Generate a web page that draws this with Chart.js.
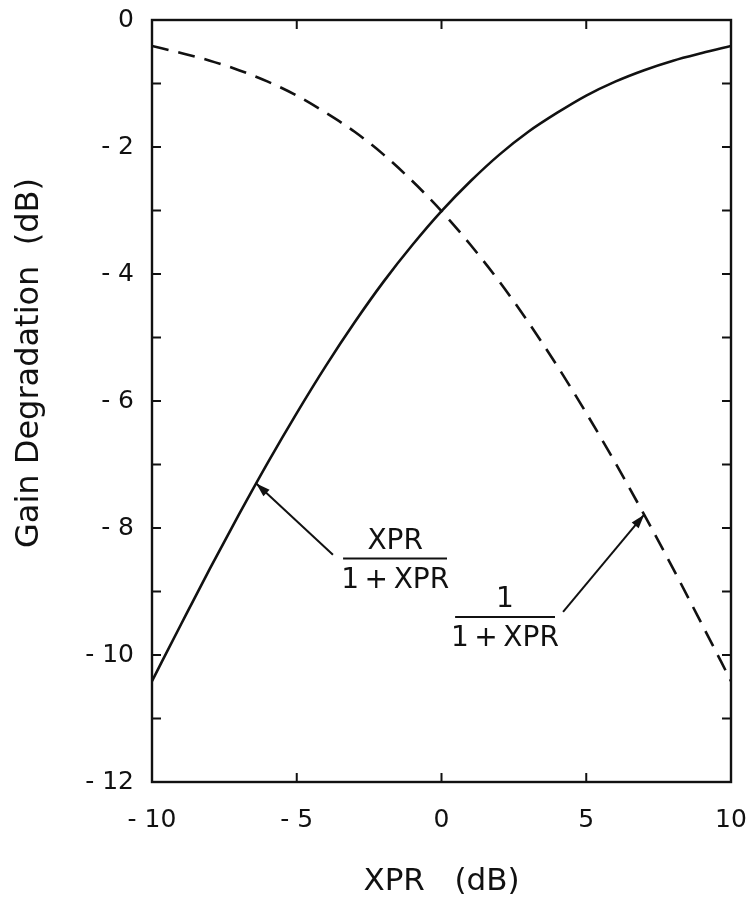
<!DOCTYPE html>
<html>
<head>
<meta charset="utf-8">
<script src="https://cdn.jsdelivr.net/npm/chart.js@4/dist/chart.umd.min.js"></script>
<style>
html, body { margin: 0; padding: 0; background: #fff; }
#wrap { width: 752px; height: 905px; position: relative; }
</style>
</head>
<body>
<div id="wrap"><canvas id="c"></canvas></div>
<script>
// XPR (dB) along x
const xpr = [-10, -9, -8, -7, -6, -5, -4, -3, -2, -1, 0, 1, 2, 3, 4, 5, 6, 7, 8, 9, 10];
// gain degradation (dB), solid curve XPR/(1+XPR)
const solidVals = [-10.41, -9.52, -8.64, -7.79, -6.97, -6.19, -5.45, -4.76, -4.12, -3.54, -3.01,
  -2.54, -2.12, -1.76, -1.46, -1.19, -0.97, -0.79, -0.64, -0.52, -0.41];
// dashed curve 1/(1+XPR)
const dashedVals = [-0.41, -0.52, -0.64, -0.79, -0.97, -1.19, -1.46, -1.76, -2.12, -2.54, -3.01,
  -3.54, -4.12, -4.76, -5.45, -6.19, -6.97, -7.79, -8.64, -9.52, -10.41];
const xTickStep = 5;
const yTickStep = 1;

// fraction labels with arrows (data coords)
const notes = [
  { top: 'XPR', bottom: '1\u2009+\u2009XPR', cx: -1.6, cy: -8.48, x0: -3.4, x1: 0.19, tail: [-3.75, -8.42], tip: [-6.4, -7.3] },
  { top: '1', bottom: '1\u2009+\u2009XPR', cx: 2.19, cy: -9.4, x0: 0.47, x1: 3.92, tail: [4.2, -9.32], tip: [7.0, -7.79] }
];

const INK = '#111';
const FONT = '"DejaVu Sans", sans-serif';

const minusLabel = v => v < 0 ? '- ' + (-v) : String(v);

const frame = {
  id: 'frame',
  afterDatasetsDraw(chart) {
    const { ctx, chartArea: a, scales: { x, y } } = chart;
    ctx.save();
    ctx.strokeStyle = INK;
    ctx.lineWidth = 2.4;
    ctx.strokeRect(a.left, a.top, a.right - a.left, a.bottom - a.top);
    // inward ticks on all four sides
    const tl = 9;
    ctx.lineWidth = 2;
    ctx.beginPath();
    x.ticks.forEach(t => {
      const px = x.getPixelForValue(t.value);
      ctx.moveTo(px, a.bottom); ctx.lineTo(px, a.bottom - tl);
      ctx.moveTo(px, a.top); ctx.lineTo(px, a.top + tl);
    });
    y.ticks.forEach(t => {
      const py = y.getPixelForValue(t.value);
      ctx.moveTo(a.left, py); ctx.lineTo(a.left + tl, py);
      ctx.moveTo(a.right, py); ctx.lineTo(a.right - tl, py);
    });
    ctx.stroke();

    // annotations
    ctx.fillStyle = INK;
    ctx.font = '28px ' + FONT;
    ctx.textAlign = 'center';
    ctx.textBaseline = 'middle';
    notes.forEach(n => {
      const cx = x.getPixelForValue(n.cx), cy = y.getPixelForValue(n.cy);
      ctx.lineWidth = 2;
      ctx.beginPath();
      ctx.moveTo(x.getPixelForValue(n.x0), cy);
      ctx.lineTo(x.getPixelForValue(n.x1), cy);
      ctx.stroke();
      ctx.fillText(n.top, cx, cy - 17);
      ctx.fillText(n.bottom, cx, cy + 22);
      const tx = x.getPixelForValue(n.tail[0]), ty = y.getPixelForValue(n.tail[1]);
      const hx = x.getPixelForValue(n.tip[0]), hy = y.getPixelForValue(n.tip[1]);
      ctx.beginPath();
      ctx.moveTo(tx, ty); ctx.lineTo(hx, hy);
      ctx.stroke();
      const ang = Math.atan2(hy - ty, hx - tx);
      ctx.beginPath();
      ctx.moveTo(hx, hy);
      ctx.lineTo(hx - 14 * Math.cos(ang) + 4.5 * Math.sin(ang), hy - 14 * Math.sin(ang) - 4.5 * Math.cos(ang));
      ctx.lineTo(hx - 14 * Math.cos(ang) - 4.5 * Math.sin(ang), hy - 14 * Math.sin(ang) + 4.5 * Math.cos(ang));
      ctx.closePath();
      ctx.fill();
    });

    // y title
    ctx.font = '32px ' + FONT;
    ctx.translate(a.left - 122, a.top + 343);
    ctx.rotate(-Math.PI / 2);
    ctx.fillText('Gain Degradation  (dB)', 0, 0);
    ctx.restore();
  }
};

new Chart(document.getElementById('c'), {
  type: 'line',
  data: {
    datasets: [
      { data: xpr.map((v, i) => ({ x: v, y: solidVals[i] })), borderColor: INK, borderWidth: 2.6,
        pointRadius: 0, cubicInterpolationMode: 'monotone', fill: false },
      { data: xpr.map((v, i) => ({ x: v, y: dashedVals[i] })), borderColor: INK, borderWidth: 2.6,
        borderDash: [17, 10], pointRadius: 0, cubicInterpolationMode: 'monotone', fill: false }
    ]
  },
  options: {
    responsive: true,
    maintainAspectRatio: false,
    animation: false,
    layout: { padding: { top: 20, right: 21, left: 0, bottom: 0 } },
    plugins: { legend: { display: false }, tooltip: { enabled: false } },
    scales: {
      x: {
        type: 'linear', min: -10, max: 10,
        grid: { display: false }, border: { display: false },
        ticks: { stepSize: xTickStep, padding: 15, color: INK, font: { family: FONT, size: 25 },
          callback: v => minusLabel(v) },
        title: { display: true, text: 'XPR   (dB)', color: INK, font: { family: FONT, size: 31 },
          padding: { top: 0, bottom: 4 } },
        afterFit: s => { s.height = 123; s.paddingLeft = 0; s.paddingRight = 0; }
      },
      y: {
        type: 'linear', min: -12, max: 0,
        grid: { display: false }, border: { display: false },
        ticks: { stepSize: yTickStep, autoSkip: false, padding: 10, color: INK, font: { family: FONT, size: 25 },
          callback: v => v % 2 ? '' : minusLabel(v) },
        afterFit: s => { s.width = 152; s.paddingTop = 0; s.paddingBottom = 0; }
      }
    }
  },
  plugins: [frame]
});
</script>
</body>
</html>
